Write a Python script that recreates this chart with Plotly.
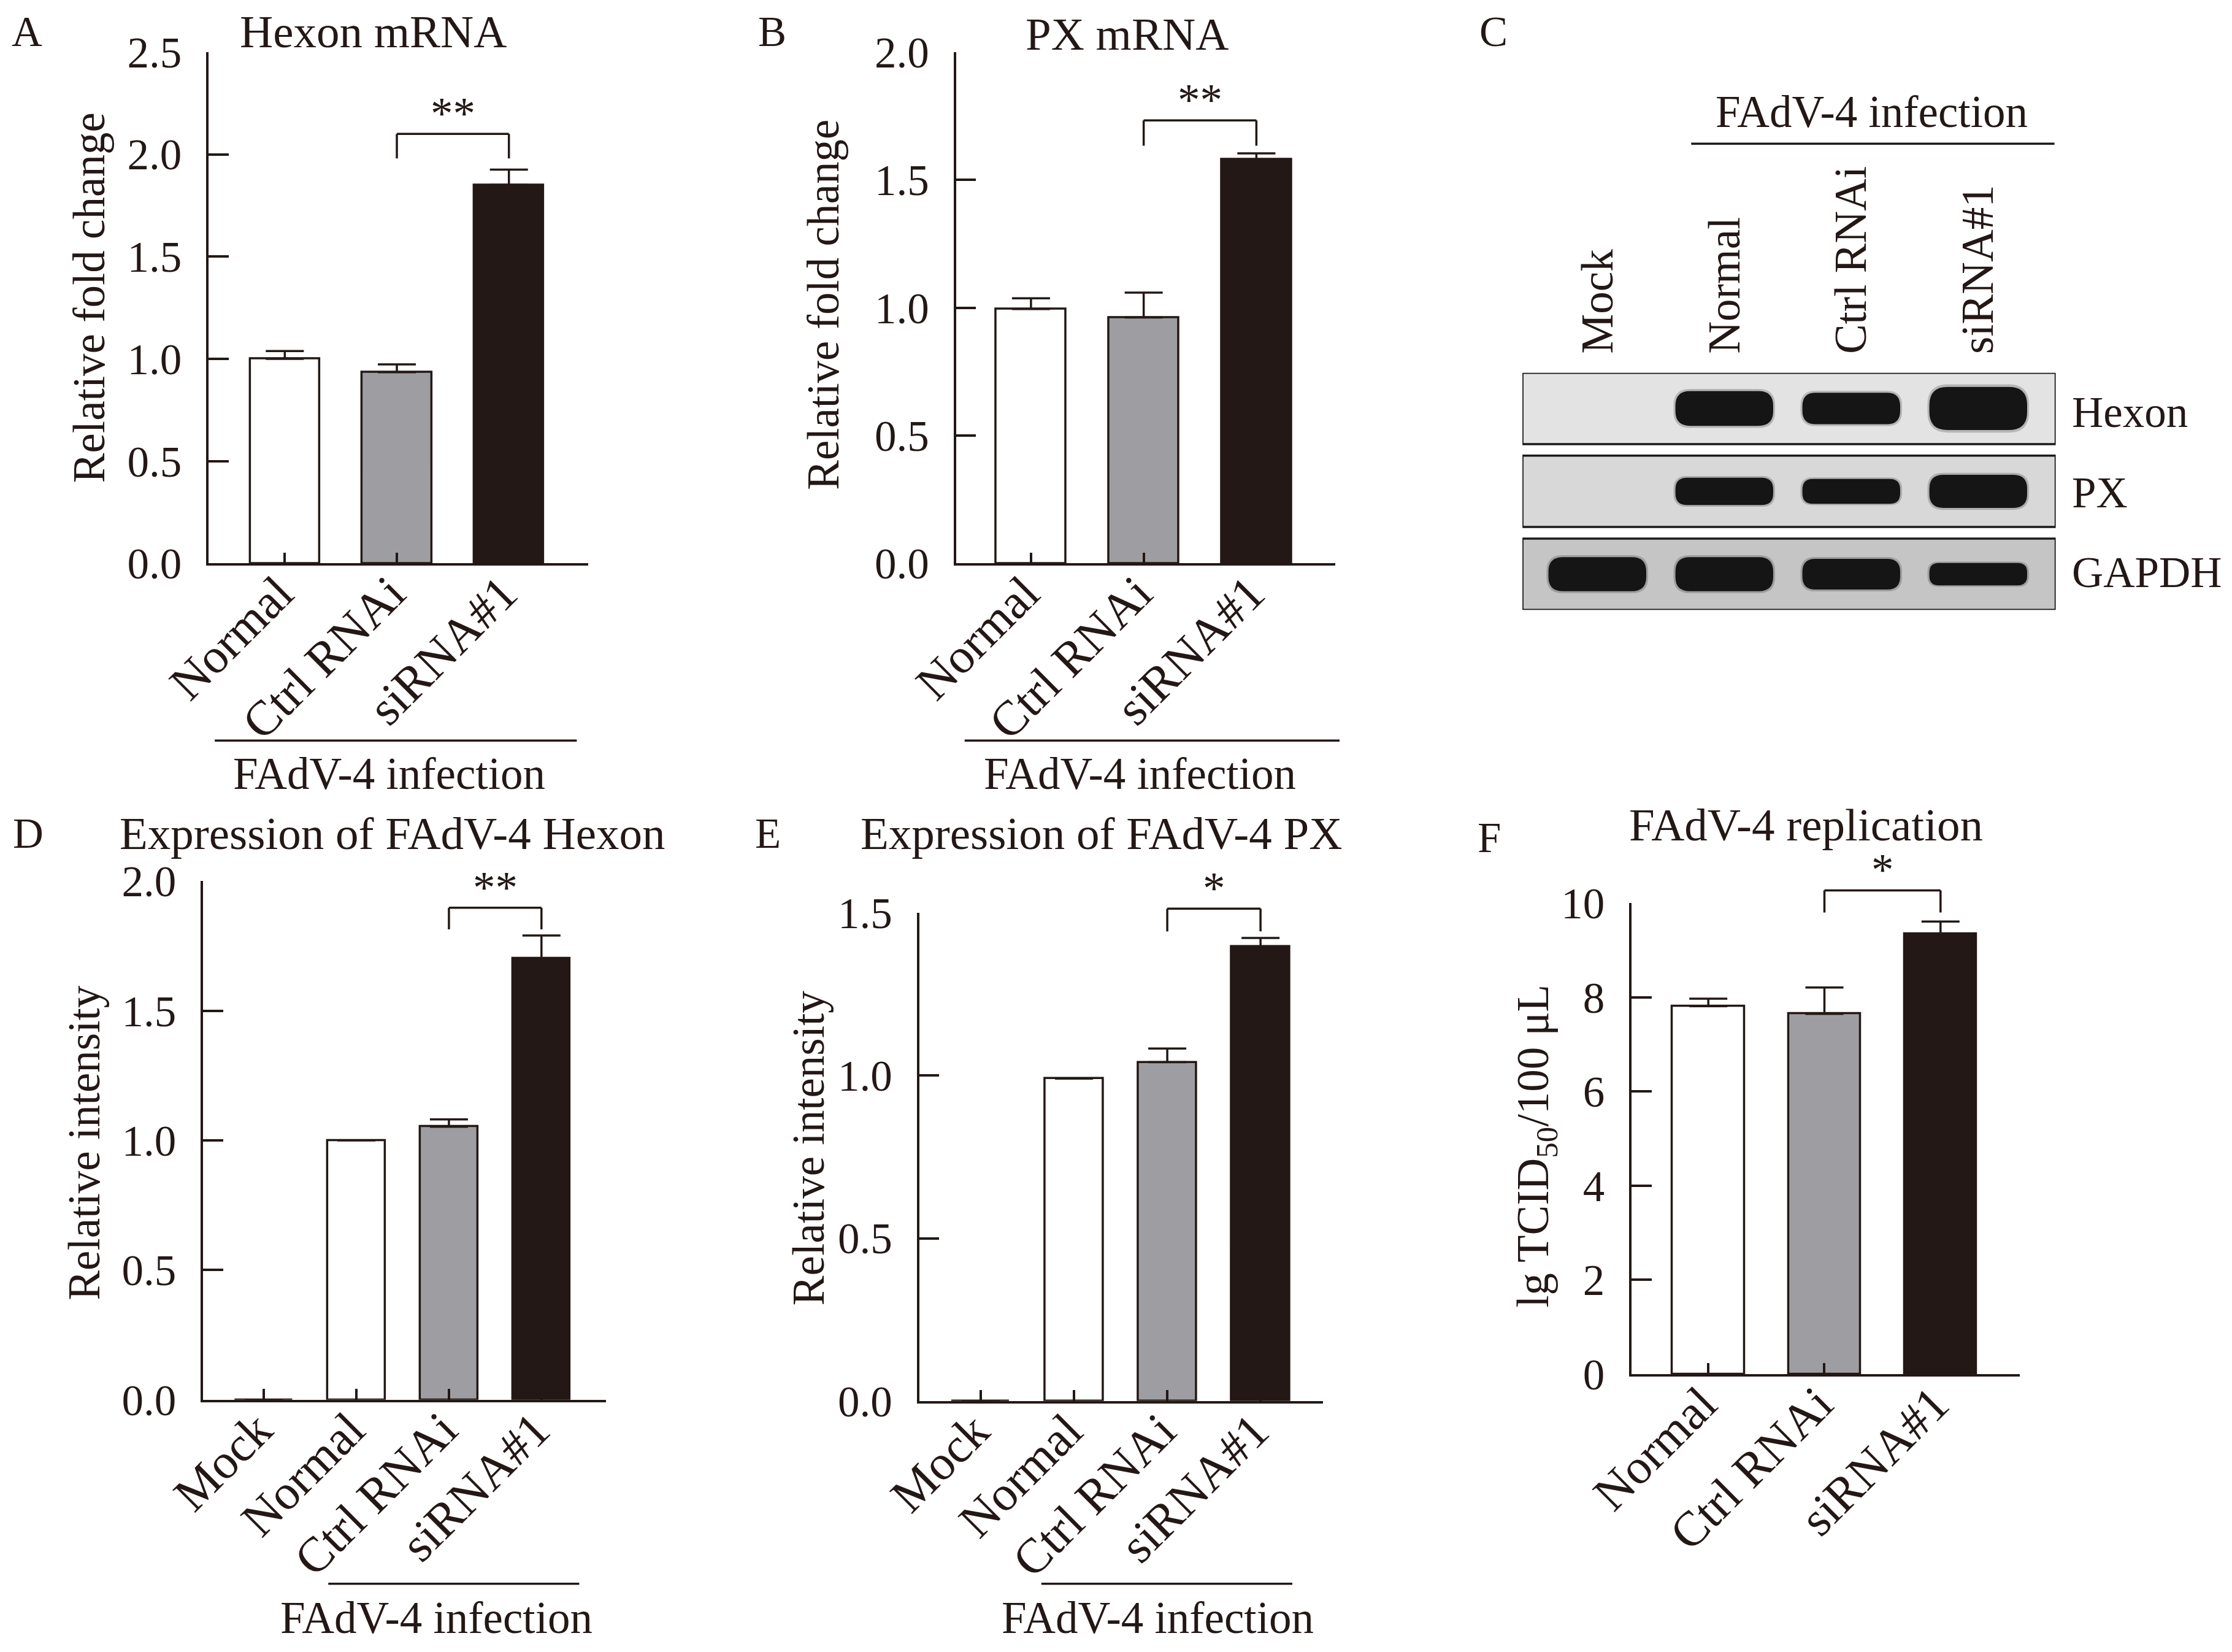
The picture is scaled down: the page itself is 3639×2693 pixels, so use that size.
import plotly.graph_objects as go

W, H = 3639, 2693
INK = "#231815"
GRAY = "#9e9ea2"
FONT = "Liberation Serif"

# ---- data ----
groups3 = ["Normal", "Ctrl RNAi", "siRNA#1"]
groups4 = ["Mock", "Normal", "Ctrl RNAi", "siRNA#1"]

hexon_mrna = [1.00, 0.935, 1.85]
hexon_mrna_err = [0.038, 0.038, 0.075]
px_mrna = [0.995, 0.962, 1.58]
px_mrna_err = [0.042, 0.097, 0.024]
hexon_int = [0.0, 1.00, 1.053, 1.703]
hexon_int_err = [0.0, 0.0, 0.028, 0.087]
px_int = [0.0, 0.991, 1.041, 1.397]
px_int_err = [0.0, 0.0, 0.042, 0.026]
tcid50 = [7.81, 7.65, 9.35]
tcid50_err = [0.16, 0.56, 0.26]

# significance brackets (Ctrl RNAi vs siRNA#1): top, foot, label
sig_a = [2.10, 1.98, "**"]
sig_b = [1.733, 1.634, "**"]
sig_d = [1.897, 1.814, "**"]
sig_e = [1.513, 1.443, "*"]
sig_f = [10.27, 9.80, "*"]

# western blot (panel C): relative band thickness per lane
blot_lanes = ["Mock", "Normal", "Ctrl RNAi", "siRNA#1"]
blot_rows = ["Hexon", "PX", "GAPDH"]
band_hexon = [0.0, 0.42, 0.38, 0.52]
band_px = [0.0, 0.33, 0.30, 0.40]
band_gapdh = [0.41, 0.41, 0.37, 0.27]


# positions below are measured on the reference picture (pixels);
# the page is photographed slightly scaled/offset, so map them back
def fx(px):
    return (px - 88) / 0.977 / W


def fy(py):
    return 1 - (py - 44) / 0.975 / H


fig = go.Figure()
annots = []
shapes = []


def text(x, y, s, size=73, angle=0, xanchor="center", yanchor="middle"):
    annots.append(dict(x=fx(x), y=fy(y), xref="paper", yref="paper", text=s,
                       showarrow=False, textangle=angle, xanchor=xanchor,
                       yanchor=yanchor, font=dict(family=FONT, size=size, color=INK)))


def bar_panel(n, cats, vals, errs, fills, xpx, ypx, yrange, dtick, xrange, sig, fmt):
    xa, ya = f"x{n}", f"y{n}"
    fig.add_trace(go.Bar(
        x=cats, y=vals, xaxis=xa, yaxis=ya, width=0.62,
        marker=dict(color=fills, line=dict(color=INK, width=3.5)),
        error_y=dict(type="data", array=errs, arrayminus=[0] * len(errs),
                     symmetric=False, color=INK, thickness=3.5, width=31),
        showlegend=False,
    ))
    fig.layout[f"xaxis{n}"] = dict(
        domain=[fx(xpx[0]), fx(xpx[1])], anchor=ya, type="category",
        range=xrange, showline=True, linecolor=INK, linewidth=3.5,
        ticks="inside", ticklen=18, tickwidth=3.5, tickcolor=INK,
        tickangle=-45, ticklabelstandoff=-34, ticklabelshift=-10,
        showgrid=False, zeroline=False,
        tickfont=dict(family=FONT, size=80, color=INK),
    )
    fig.layout[f"yaxis{n}"] = dict(
        domain=[fy(ypx[1]), fy(ypx[0])], anchor=xa, range=yrange, dtick=dtick,
        tick0=0, tickformat=fmt, showline=True, linecolor=INK, linewidth=3.5,
        ticks="inside", ticklen=33, tickwidth=3.5, tickcolor=INK,
        ticklabelstandoff=26, showgrid=False, zeroline=False,
        tickfont=dict(family=FONT, size=71, color=INK),
    )

    # bracket drawn in paper space so it may sit above the axis range
    def yp(v):
        return fy(ypx[1] - (v - yrange[0]) / (yrange[1] - yrange[0]) * (ypx[1] - ypx[0]))

    top, foot, lab = sig
    i1, i2 = len(cats) - 2, len(cats) - 1
    line = dict(color=INK, width=3.5)
    for x0, x1, y0, y1 in [(i1, i1, foot, top), (i1, i2, top, top), (i2, i2, foot, top)]:
        shapes.append(dict(type="line", xref=xa, yref="paper", x0=x0, x1=x1,
                           y0=yp(y0), y1=yp(y1), line=line))
    annots.append(dict(x=(i1 + i2) / 2, y=yp(top), xref=xa, yref="paper", text=lab,
                       showarrow=False, xanchor="center", yanchor="bottom",
                       height=50, yshift=6,
                       font=dict(family=FONT, size=73, color=INK)))


fills3 = ["white", GRAY, INK]
fills4 = ["white", "white", GRAY, INK]

bar_panel(1, groups3, hexon_mrna, hexon_mrna_err, fills3, (338, 957), (83, 920),
          [0, 2.5], 0.5, [-0.68, 2.71], sig_a, ".1f")
bar_panel(2, groups3, px_mrna, px_mrna_err, fills3, (1556, 2174), (83, 920),
          [0, 2.0], 0.5, [-0.665, 2.70], sig_b, ".1f")
bar_panel(4, groups4, hexon_int, hexon_int_err, fills4, (329, 986), (1440, 2289),
          [0, 2.0], 0.5, [-0.656, 3.70], sig_d, ".1f")
bar_panel(5, groups4, px_int, px_int_err, fills4, (1496, 2154), (1492, 2291),
          [0, 1.5], 0.5, [-0.66, 3.67], sig_e, ".1f")
bar_panel(6, groups3, tcid50, tcid50_err, fills3, (2657, 3289), (1476, 2247),
          [0, 10], 2, [-0.66, 2.68], sig_f, "d")

# ---- panel C: western blot ----
BLOT_X = (2479, 3348)
BLOT_Y = (608, 996)
LANE_RANGE = [-0.59, 3.61]
ROW_RANGE = [2.43, -0.43]
lane_px = (BLOT_X[1] - BLOT_X[0]) / (LANE_RANGE[1] - LANE_RANGE[0])
row_px = (BLOT_Y[1] - BLOT_Y[0]) / (ROW_RANGE[0] - ROW_RANGE[1])


def band_path(xc, yc, hw, t):
    x0, x1 = xc - hw, xc + hw
    y0, y1 = yc - t / 2, yc + t / 2
    ry = 0.42 * t
    rx = ry * row_px / lane_px
    return (f"M {x0 + rx},{y0} L {x1 - rx},{y0} Q {x1},{y0} {x1},{y0 + ry} "
            f"L {x1},{y1 - ry} Q {x1},{y1} {x1 - rx},{y1} L {x0 + rx},{y1} "
            f"Q {x0},{y1} {x0},{y1 - ry} L {x0},{y0 + ry} Q {x0},{y0} {x0 + rx},{y0} Z")


row_bg = ["#e3e3e3", "#d8d8d8", "#c5c5c5"]
lane_x = list(range(len(blot_lanes)))
fig.add_trace(go.Scatter(x=lane_x, y=[0] * len(lane_x), mode="markers",
                         marker=dict(opacity=0), xaxis="x3", yaxis="y3",
                         hoverinfo="skip", showlegend=False))
for r, bands in enumerate([band_hexon, band_px, band_gapdh]):
    shapes.append(dict(type="rect", xref="x3", yref="y3", x0=LANE_RANGE[0], x1=LANE_RANGE[1],
                       y0=r - 0.43, y1=r + 0.43, fillcolor=row_bg[r],
                       line=dict(color="#1a1a1a", width=3.5), layer="below"))
    for lane, t in zip(lane_x, bands):
        if t <= 0:
            continue
        shapes.append(dict(type="path", xref="x3", yref="y3", layer="below",
                           path=band_path(lane, r, 0.40, t * 1.12),
                           fillcolor="rgba(25,25,25,0.22)", line=dict(width=0)))
        shapes.append(dict(type="path", xref="x3", yref="y3", layer="below",
                           path=band_path(lane, r, 0.385, t),
                           fillcolor="#151515", line=dict(width=0)))
    text(3372, 673 + r * 131, blot_rows[r], size=71, xanchor="left")

fig.update_layout(
    xaxis3=dict(domain=[fx(BLOT_X[0]), fx(BLOT_X[1])], anchor="y3", range=LANE_RANGE,
                visible=False),
    yaxis3=dict(domain=[fy(BLOT_Y[1]), fy(BLOT_Y[0])], anchor="x3", range=ROW_RANGE,
                visible=False),
)
for i, lane in enumerate(blot_lanes):
    annots.append(dict(x=i, y=fy(579), xref="x3", yref="paper", text=lane, showarrow=False,
                       textangle=-90, xanchor="center", yanchor="bottom",
                       font=dict(family=FONT, size=73, color=INK)))

# ---- titles, labels, group markers ----
for lab, x, y in [("A", 42, 50), ("B", 1256, 50), ("C", 2432, 50),
                  ("D", 44, 1362), ("E", 1249, 1362), ("F", 2425, 1369)]:
    text(x, y, lab, size=69)

text(606, 50, "Hexon mRNA", size=75)
text(1835, 54, "PX mRNA", size=75)
text(638, 1362, "Expression of FAdV-4 Hexon", size=75)
text(1793, 1362, "Expression of FAdV-4 PX", size=75)
text(2941, 1348, "FAdV-4 replication", size=75)

text(143, 485, "Relative fold change", angle=-90)
text(1340, 497, "Relative fold change", angle=-90)
text(136, 1869, "Relative intensity", angle=-90)
text(1316, 1877, "Relative intensity", angle=-90)
text(2501, 1874, "lg TCID<sub>50</sub>/100 μL", angle=-90)

for x0, x1, yl, xt, yt in [(348, 938, 1210, 632, 1264), (1570, 2181, 1210, 1856, 1264),
                           (533, 942, 2590, 709, 2646), (1695, 2104, 2590, 1885, 2646),
                           (2754, 3346, 233, 3048, 181)]:
    shapes.append(dict(type="line", xref="paper", yref="paper", x0=fx(x0), x1=fx(x1),
                       y0=fy(yl), y1=fy(yl), line=dict(color=INK, width=3.5)))
    text(xt, yt, "FAdV-4 infection")

fig.update_layout(
    width=W, height=H, margin=dict(l=0, r=0, t=0, b=0),
    paper_bgcolor="white", plot_bgcolor="rgba(0,0,0,0)",
    annotations=annots, shapes=shapes, bargap=0,
    font=dict(family=FONT, color=INK),
)
fig.write_html("out.html")
